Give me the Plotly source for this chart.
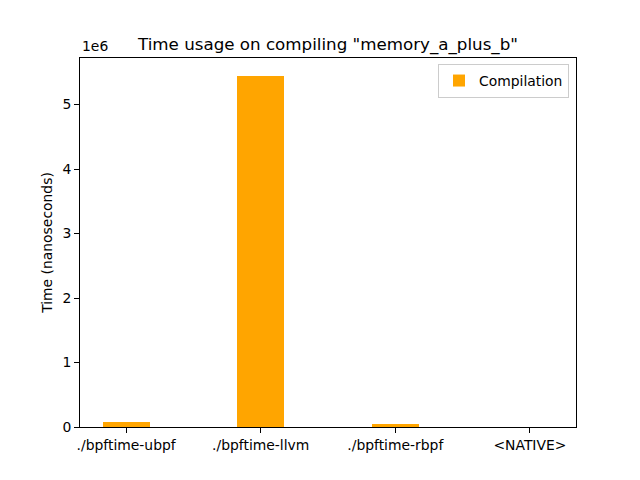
import plotly.graph_objects as go

categories = ["./bpftime-ubpf", "./bpftime-llvm", "./bpftime-rbpf", "<NATIVE>"]
compilation = [77000, 5450000, 46000, 0]
ytick_vals = [0, 1e6, 2e6, 3e6, 4e6, 5e6]
ytick_text = ["0", "1", "2", "3", "4", "5"]

font = "DejaVu Sans"
fig = go.Figure()
fig.add_trace(go.Bar(
    x=list(range(len(categories))), y=compilation, width=0.35,
    marker=dict(color="#FFA500", line=dict(width=0)), name="Compilation",
))
# page body has an 8px margin in the browser; compensate
off = 8
W, H = 640 - off, 480 - off
l, r, t, b = 80 - off, 64, 58 - off, 53
pw, ph = W - l - r, H - t - b
fig.update_layout(
    width=W, height=H, margin=dict(l=l, r=r, t=t, b=b),
    paper_bgcolor="white", plot_bgcolor="white",
    font=dict(family=font, size=13.9, color="black"),
    title=dict(text='Time usage on compiling "memory_a_plus_b"', x=(l + pw / 2) / W, xanchor="center",
               y=1 - (44 - off) / H, yanchor="middle", font=dict(size=16.7, family=font)),
    showlegend=True,
    legend=dict(x=1 - 7 / pw, y=1 - 6 / ph, xanchor="right", yanchor="top",
                bordercolor="#cccccc", borderwidth=1, bgcolor="rgba(255,255,255,0.8)",
                font=dict(size=13.9, family=font)),
    bargap=0,
)
fig.update_xaxes(
    range=[-0.3425, 3.3425], tickvals=list(range(len(categories))), ticktext=categories,
    showline=True, mirror=True, linecolor="black", linewidth=1,
    ticks="outside", ticklen=5, tickcolor="black", showgrid=False, zeroline=False,
)
fig.update_yaxes(
    range=[0, 5.7225e6], tickvals=ytick_vals, ticktext=ytick_text,
    showline=True, mirror=True, linecolor="black", linewidth=1,
    ticks="outside", ticklen=5, tickcolor="black", showgrid=False, zeroline=False,
    title=dict(text="Time (nanoseconds)", font=dict(size=13.9, family=font), standoff=6),
)
fig.add_annotation(text="1e6", xref="paper", yref="paper", x=0, y=1, xanchor="left", yanchor="bottom",
                   yshift=2, showarrow=False, font=dict(size=13.9, family=font))
fig.write_html("out.html")
